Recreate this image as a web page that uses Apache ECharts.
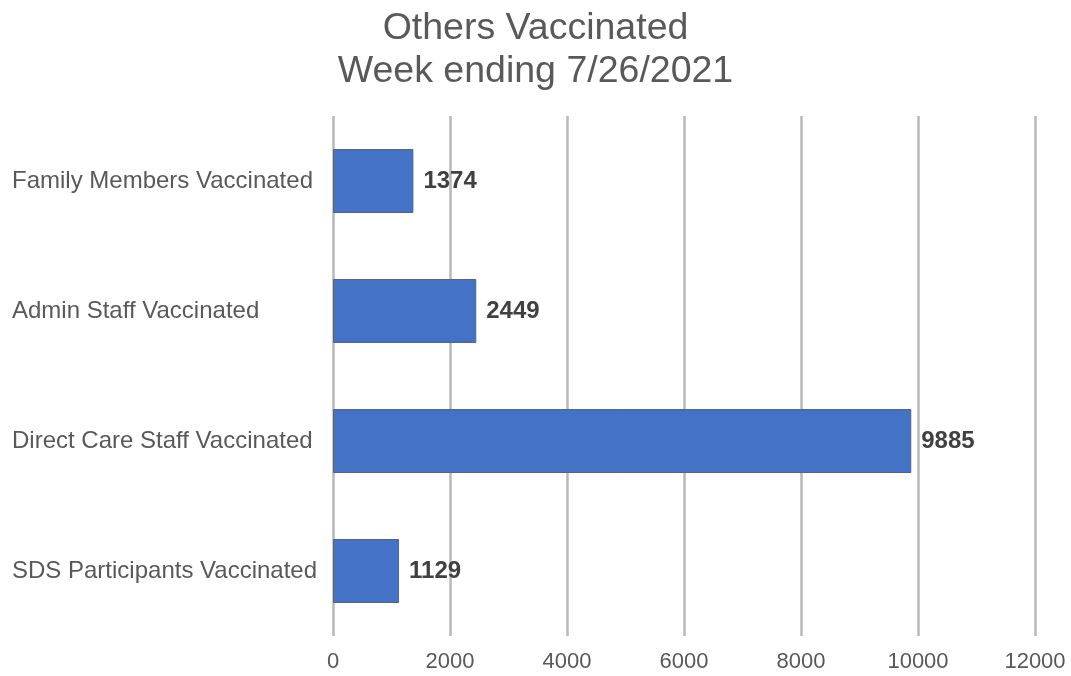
<!DOCTYPE html>
<html>
<head>
<meta charset="utf-8">
<script src="https://cdn.jsdelivr.net/npm/echarts@6/dist/echarts.min.js"></script>
<style>html,body{margin:0;padding:0;background:#fff}#c{width:1071px;height:676px}</style>
</head>
<body>
<div id="c"></div>
<script>
const titleLines = ['Others Vaccinated', 'Week ending 7/26/2021'];
const categories = ['Family Members Vaccinated', 'Admin Staff Vaccinated', 'Direct Care Staff Vaccinated', 'SDS Participants Vaccinated'];
const values = [1374, 2449, 9885, 1129];
const xTicks = { min: 0, max: 12000, interval: 2000 };

const chart = echarts.init(document.getElementById('c'), null, { renderer: 'canvas' });
chart.setOption({
  animation: false,
  backgroundColor: '#ffffff',
  title: {
    text: titleLines.join('\n'),
    left: 'center',
    top: 2,
    textStyle: { fontFamily: 'Liberation Sans', fontSize: 37.5, fontWeight: 'normal', color: '#595959', lineHeight: 43 }
  },
  grid: { left: 333, right: 36, top: 116, bottom: 40, containLabel: false },
  xAxis: {
    type: 'value',
    min: xTicks.min, max: xTicks.max, interval: xTicks.interval,
    axisLine: { show: false },
    axisTick: { show: false },
    axisLabel: { fontFamily: 'Liberation Sans', fontSize: 22, color: '#595959', margin: 15, formatter: v => String(v) },
    splitLine: { show: true, lineStyle: { color: '#b8b8b8', width: 2.5 } }
  },
  yAxis: {
    type: 'category',
    inverse: true,
    data: categories,
    axisLine: { show: false },
    axisTick: { show: false },
    axisLabel: { fontFamily: 'Liberation Sans', fontSize: 24, color: '#595959', align: 'left', margin: 321 }
  },
  series: [{
    type: 'bar',
    data: values,
    barWidth: 64,
    itemStyle: { color: '#4472c4', borderColor: '#5b6270', borderWidth: 1 },
    label: {
      show: true, position: 'right', distance: 10,
      fontFamily: 'Liberation Sans', fontWeight: 'bold', fontSize: 24, color: '#404040'
    }
  }]
});
</script>
</body>
</html>
